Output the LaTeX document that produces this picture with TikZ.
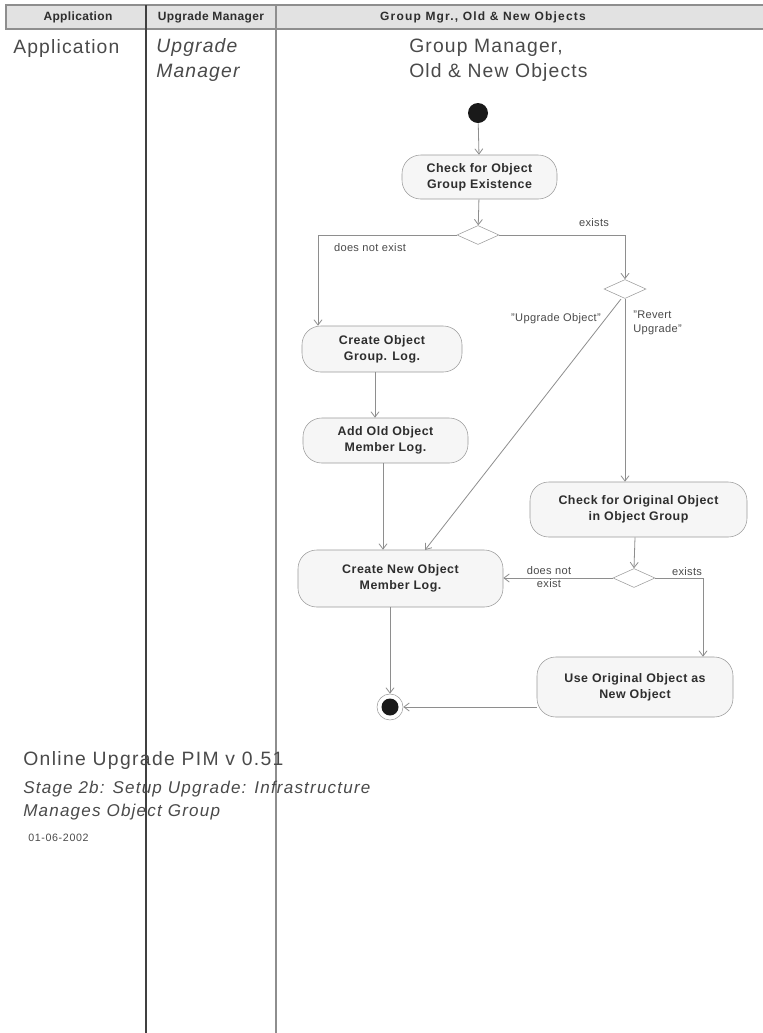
\documentclass[tikz,border=0pt]{standalone}
\usepackage{fontspec}
\setmainfont{Liberation Sans}
\usetikzlibrary{arrows.meta,shapes.geometric}
\definecolor{linegray}{HTML}{8E8E8E}
\definecolor{nodefill}{HTML}{F6F6F6}
\definecolor{nodeborder}{HTML}{9A9A9A}
\definecolor{txt}{HTML}{2E2E2E}
\definecolor{titletxt}{HTML}{4A4A4A}
\definecolor{headfill}{HTML}{E2E2E2}
\begin{document}
\begin{tikzpicture}[x=0.75pt,y=-0.75pt,
  act/.style={draw=nodeborder, fill=nodefill, rounded corners=14pt, align=center,
    font=\fontsize{9.3}{12}\selectfont\bfseries\addfontfeature{LetterSpace=4}, text=txt, inner sep=0pt},
  dec/.style={diamond, draw=nodeborder, fill=white, inner sep=0pt,
    minimum width=42*0.75pt, minimum height=19*0.75pt},
  flow/.style={draw=linegray, line width=0.6pt, -{Straight Barb[length=4pt,width=6pt]}},
  guard/.style={font=\fontsize{8.3}{10}\selectfont\addfontfeature{LetterSpace=3}, text=titletxt, inner sep=0pt, align=left},
  lanetitle/.style={font=\fontsize{14.5}{18}\selectfont\addfontfeature{LetterSpace=6}, text=titletxt, inner sep=0pt, anchor=west, align=left},
  headtxt/.style={font=\fontsize{9}{10}\selectfont\bfseries\addfontfeature{LetterSpace=3}, text=txt, inner sep=0pt}
]
\useasboundingbox (0,0) rectangle (763,1033);
\fill[white] (0,0) rectangle (763,1033);
% header
\draw[draw=linegray, fill=headfill, line width=0.8pt] (6,5) rectangle (770,29);
\draw[draw=linegray, line width=1pt] (276,5) -- (276,1033);
\draw[draw=black!75, line width=1.5pt] (146,5) -- (146,1033);
\node[headtxt] (h1) at (78,17) {Application};
\node[headtxt] (h2) at (211,17) {Upgrade Manager};
\node[headtxt, font=\fontsize{9}{10}\selectfont\bfseries\addfontfeature{LetterSpace=10}] (h3) at (483,17) {Group Mgr., Old \& New Objects};
% lane titles
\node[lanetitle] (t1) at (13,48) {Application};
\node[lanetitle, font=\fontsize{14.5}{18}\selectfont\itshape\addfontfeature{LetterSpace=6}] (t2) at (156,60) {Upgrade\\[1pt]Manager};
\node[lanetitle] (t3) at (409,60) {Group Manager,\\[1pt]Old \& New Objects};
% activity nodes
\node[circle, fill=black!90, minimum size=20*0.75pt, inner sep=0pt] (start) at (478,113) {};
\node[act, minimum width=155*0.75pt, minimum height=44*0.75pt] (chk) at (479.5,177) {Check for Object\\Group Existence};
\node[dec] (d1) at (478,235) {};
\node[dec] (d2) at (625,289) {};
\node[act, minimum width=160*0.75pt, minimum height=46*0.75pt] (cgrp) at (382,349) {Create Object\\Group. Log.};
\node[act, minimum width=165*0.75pt, minimum height=45*0.75pt] (addold) at (385.5,440.5) {Add Old Object\\Member Log.};
\node[act, minimum width=217*0.75pt, minimum height=55*0.75pt] (chkorig) at (638.5,509.5) {Check for Original Object\\in Object Group};
\node[act, minimum width=205*0.75pt, minimum height=57*0.75pt] (cnew) at (400.5,578.5) {Create New Object\\Member Log.};
\node[dec] (d3) at (634,578) {};
\node[act, minimum width=196*0.75pt, minimum height=60*0.75pt] (useorig) at (635,687) {Use Original Object as\\New Object};
\node[circle, draw=nodeborder, fill=white, minimum size=26*0.75pt, inner sep=0pt] (end) at (390,707) {};
\fill[black!90] (end.center) circle (8.5*0.75pt);
% helper coordinates
\coordinate (xl) at (318,0);
\coordinate (xr) at (625,0);
\coordinate (xa) at (375,0);
\coordinate (xb) at (383,0);
\coordinate (xc) at (635,0);
\coordinate (xd) at (703,0);
\coordinate (xe) at (390,0);
\coordinate (dg1) at (621,299);
\coordinate (dg2) at (425,550);
% connectors
\draw[flow] (start) -- (chk);
\draw[flow] (chk) -- (d1);
\draw[flow] (d1.west) -| (cgrp.north -| xl);
\draw[flow] (d1.east) -| (d2.north);
\draw[flow] (cgrp.south -| xa) -- (addold.north -| xa);
\draw[flow] (addold.south -| xb) -- (cnew.north -| xb);
\draw[flow] (dg1) -- (dg2);
\draw[flow] (d2.south) -- (chkorig.north -| xr);
\draw[flow] (chkorig.south -| xc) -- (d3.north);
\draw[flow] (d3.west) -- (cnew.east |- d3.west);
\draw[flow] (d3.east) -| (useorig.north -| xd);
\draw[flow] (cnew.south -| xe) -- (end.north);
\draw[flow] (useorig.west |- end.east) -- (end.east);
% guards
\node[guard] (g1) at (370,248) {does not exist};
\node[guard] (g2) at (594,223) {exists};
\node[guard] (g3) at (556,319) {"Upgrade Object"};
\node[guard, anchor=west] (g4) at (633,323) {"Revert\\Upgrade"};
\node[guard, align=center] (g5) at (549,577) {does not\\exist};
\node[guard] (g6) at (687,572) {exists};
% footer
\node[lanetitle, font=\fontsize{14.5}{17}\selectfont\addfontfeature{LetterSpace=7}] (f1) at (23,760) {Online Upgrade PIM v 0.51};
\node[lanetitle, font=\fontsize{12.8}{17.25}\selectfont\itshape\addfontfeature{LetterSpace=7}] (f2) at (23,801) {Stage 2b: Setup Upgrade: Infrastructure\\Manages Object Group};
\node[lanetitle, font=\fontsize{8}{9}\selectfont\addfontfeature{LetterSpace=6}] (f3) at (28,838) {01-06-2002};
\end{tikzpicture}
\end{document}
